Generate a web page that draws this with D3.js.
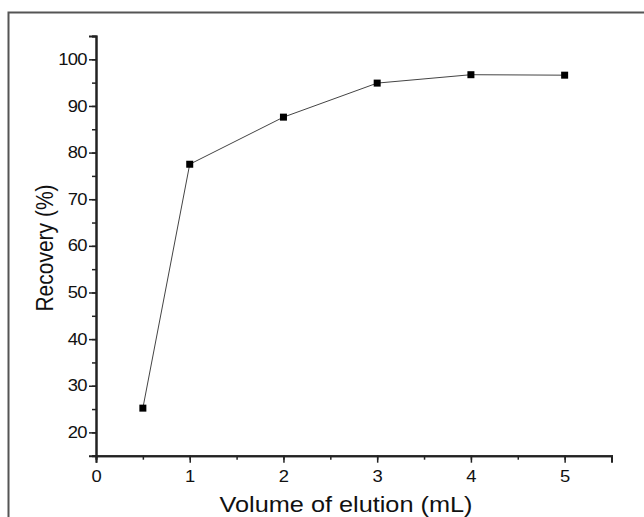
<!DOCTYPE html>
<html>
<head>
<script src="https://d3js.org/d3.v7.min.js"></script>
<style>
  body { margin: 0; background: #fff; }
  text { font-family: "Liberation Sans", Arial, sans-serif; fill: #111; }
</style>
</head>
<body>
<div id="chart"></div>
<script>
  const volumes = [0.5, 1, 2, 3, 4, 5]
  const recovery = [25.2, 77.5, 87.6, 94.9, 96.7, 96.6]
  const xTicks = [0, 1, 2, 3, 4, 5]
  const yTicks = [20, 30, 40, 50, 60, 70, 80, 90, 100]
  const xTitle = "Volume of elution (mL)"
  const yTitle = "Recovery (%)"

  const width = 644
  const height = 517

  const svg = d3.select("#chart").append("svg")
    .attr("width", width).attr("height", height)

  // outer frame (right and bottom edges run off the picture)
  svg.append("rect")
    .attr("x", 8.5).attr("y", 12.5)
    .attr("width", 640).attr("height", 520)
    .attr("fill", "none").attr("stroke", "#555").attr("stroke-width", 2)

  const x = d3.scaleLinear().domain([0, 5.5]).range([96, 611.5])
  const y = d3.scaleLinear().domain([15, 105]).range([455.7, 36])

  // minor ticks
  const minorX = d3.range(0, 5.51, 0.5)
  const minorY = d3.range(15, 105.1, 5)

  // the source picture is a bit wider than tall, so the labels are stretched sideways
  const stretch = 1.15

  const gx = svg.append("g").attr("transform", "translate(0,455.7)")
  gx.append("g").call(d3.axisBottom(x).tickValues(minorX).tickSize(4).tickFormat(""))
  gx.append("g").call(d3.axisBottom(x).tickValues(xTicks).tickSize(7).tickFormat(d3.format("d")))
  gx.selectAll("path.domain").attr("stroke", "#222").attr("stroke-width", 2)
  gx.selectAll("line").attr("stroke", "#222").attr("stroke-width", 1.5)
  gx.selectAll("text").style("font-size", "16px")
    .attr("y", 14).attr("dy", "0.75em")
    .attr("transform", `scale(${stretch},1)`)

  const gy = svg.append("g").attr("transform", "translate(96,0)")
  gy.append("g").call(d3.axisLeft(y).tickValues(minorY).tickSize(4).tickFormat(""))
  gy.append("g").call(d3.axisLeft(y).tickValues(yTicks).tickSize(7).tickFormat(d3.format("d")))
  gy.selectAll("path.domain").attr("stroke", "#222").attr("stroke-width", 2)
  gy.selectAll("line").attr("stroke", "#222").attr("stroke-width", 1.5)
  gy.selectAll("text").style("font-size", "16px")
    .attr("x", -8).attr("letter-spacing", "-0.6px")
    .attr("transform", `scale(${stretch},1)`)

  const pts = volumes.map((v, i) => [v, recovery[i]])

  svg.append("path")
    .datum(pts)
    .attr("fill", "none")
    .attr("stroke", "#444")
    .attr("stroke-width", 1)
    .attr("d", d3.line().x(d => x(d[0])).y(d => y(d[1])))

  svg.selectAll("rect.pt")
    .data(pts)
    .enter()
    .append("rect")
    .attr("class", "pt")
    .attr("x", d => x(d[0]) - 3.5)
    .attr("y", d => y(d[1]) - 3.5)
    .attr("width", 7).attr("height", 7)
    .attr("fill", "#000")

  svg.append("text")
    .attr("transform", `translate(346,512) scale(${stretch},1)`)
    .attr("text-anchor", "middle")
    .style("font-size", "22px")
    .text(xTitle)

  svg.append("text")
    .attr("transform", `translate(53,248) scale(${stretch},1) rotate(-90)`)
    .attr("text-anchor", "middle")
    .style("font-size", "21px")
    .text(yTitle)
</script>
</body>
</html>
